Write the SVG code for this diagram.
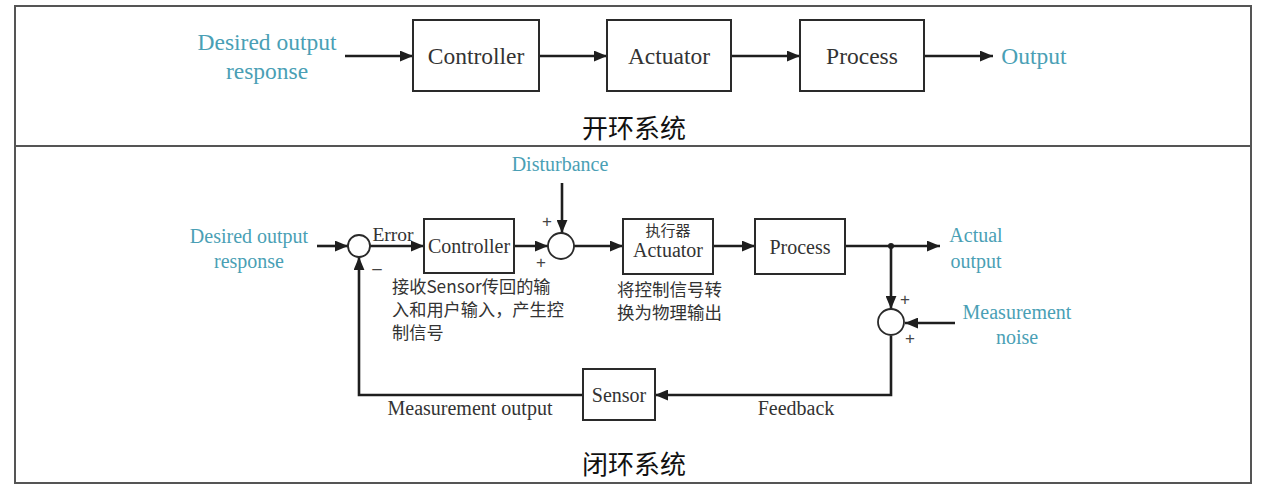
<svg xmlns="http://www.w3.org/2000/svg" width="1262" height="489" viewBox="0 0 1262 489">
<defs>
<marker id="ah" viewBox="0 0 12 10" refX="12" refY="5" markerWidth="13" markerHeight="11" markerUnits="userSpaceOnUse" orient="auto"><path d="M0,0 L12,5 L0,10 z" fill="#1e1e1e"/></marker>
<style>
.frame{fill:#fff;stroke:#555;stroke-width:2}
.box{fill:#fff;stroke:#2a2a2a;stroke-width:2}
.sum{fill:#fff;stroke:#2a2a2a;stroke-width:1.8}
.lna{fill:none;stroke:#1e1e1e;stroke-width:2.6;marker-end:url(#ah)}
.t{font-family:"Liberation Serif","Times New Roman",serif;fill:#333;text-anchor:middle;dominant-baseline:central}
.teal{font-family:"Liberation Serif","Times New Roman",serif;fill:#4a9fb5;text-anchor:middle;dominant-baseline:central}
.cn{font-family:"Noto Sans CJK SC","Noto Sans",sans-serif;fill:#333;dominant-baseline:central}
.ttl{font-family:"Noto Sans CJK SC","Noto Sans",sans-serif;fill:#111;text-anchor:middle;dominant-baseline:central;font-size:26px}
.sg{font-family:"Liberation Sans",sans-serif;fill:#444;text-anchor:middle;dominant-baseline:central;font-size:17px}
</style>
</defs>
<rect class="frame" x="15" y="6" width="1236" height="477"/>
<line x1="15" y1="146" x2="1251" y2="146" stroke="#555" stroke-width="2"/>

<g id="connectors">
<path class="lna" d="M345,56 H413"/>
<path class="lna" d="M539,56 H607"/>
<path class="lna" d="M731,56 H800"/>
<path class="lna" d="M924,56 H993"/>

<path class="lna" d="M317,246 H348"/>
<path class="lna" d="M370,246 H424"/>
<path class="lna" d="M514,246 H548"/>
<path class="lna" d="M562,183 V233"/>
<path class="lna" d="M574,246 H623"/>
<path class="lna" d="M713,246 H755"/>
<path class="lna" d="M845,246 H940"/>
<circle cx="891" cy="246" r="3" fill="#1e1e1e"/>
<path class="lna" d="M891,246 V309"/>
<path class="lna" d="M955,323 H905"/>
<path class="lna" d="M891,336 V395 H655"/>
<path class="lna" d="M583,395 H359 V257"/>
</g>

<g id="open-input"><text class="teal" x="267" y="42" font-size="23.5">Desired output</text><text class="teal" x="267" y="71" font-size="23.5">response</text></g>
<g id="open-controller"><rect class="box" x="413" y="20" width="126" height="71"/><text class="t" x="476" y="56" font-size="23.5">Controller</text></g>
<g id="open-actuator"><rect class="box" x="607" y="20" width="124" height="71"/><text class="t" x="669" y="56" font-size="23.5">Actuator</text></g>
<g id="open-process"><rect class="box" x="800" y="20" width="124" height="71"/><text class="t" x="862" y="56" font-size="23.5">Process</text></g>
<g id="open-output"><text class="teal" x="1034" y="56" font-size="23.5">Output</text></g>
<text class="ttl" x="634" y="126">开环系统</text>

<g id="closed-input"><text class="teal" x="249" y="236" font-size="20">Desired output</text><text class="teal" x="249" y="261" font-size="20">response</text></g>
<g id="sum1"><circle class="sum" cx="359" cy="246" r="11"/><text class="sg" x="377" y="268">–</text></g>
<text class="t" x="393" y="234" font-size="19.5">Error</text>
<g id="controller"><rect class="box" x="424" y="219" width="90" height="54"/><text class="t" x="469" y="246" font-size="20">Controller</text>
<text class="cn" x="392" y="285" font-size="17.2">接收Sensor传回的输</text>
<text class="cn" x="392" y="308" font-size="17.2">入和用户输入，产生控</text>
<text class="cn" x="392" y="331" font-size="17.2">制信号</text></g>
<g id="disturbance"><text class="teal" x="560" y="164" font-size="20">Disturbance</text></g>
<g id="sum2"><circle class="sum" cx="561" cy="246" r="13"/><text class="sg" x="547" y="221">+</text><text class="sg" x="541" y="262">+</text></g>
<g id="actuator"><rect class="box" x="623" y="219" width="90" height="55"/><text class="cn" x="668" y="229" font-size="15" text-anchor="middle">执行器</text><text class="t" x="668" y="250" font-size="20">Actuator</text>
<text class="cn" x="617" y="288" font-size="17.5">将控制信号转</text>
<text class="cn" x="617" y="311" font-size="17.5">换为物理输出</text></g>
<g id="process"><rect class="box" x="755" y="219" width="90" height="55"/><text class="t" x="800" y="247" font-size="20">Process</text></g>
<g id="actual-output"><text class="teal" x="976" y="235" font-size="20">Actual</text><text class="teal" x="976" y="261" font-size="20">output</text></g>
<g id="sum3"><circle class="sum" cx="891" cy="322" r="13"/><text class="sg" x="905" y="299">+</text><text class="sg" x="910" y="338">+</text></g>
<g id="noise"><text class="teal" x="1017" y="312" font-size="20">Measurement</text><text class="teal" x="1017" y="337" font-size="20">noise</text></g>
<g id="sensor"><rect class="box" x="583" y="369" width="72" height="51"/><text class="t" x="619" y="395" font-size="20">Sensor</text></g>
<text class="t" x="470" y="408" font-size="20">Measurement output</text>
<text class="t" x="796" y="408" font-size="20">Feedback</text>
<text class="ttl" x="634" y="462">闭环系统</text>
</svg>
